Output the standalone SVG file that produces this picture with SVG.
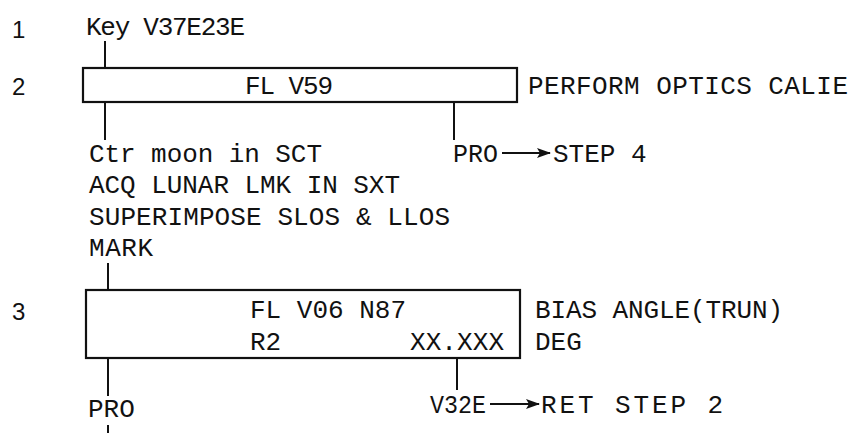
<svg xmlns="http://www.w3.org/2000/svg" width="853" height="433" viewBox="0 0 853 433">
<style>
.t{font-family:"Liberation Mono","DejaVu Sans Mono",monospace;font-size:26px;fill:#111}
.n{font-family:"Liberation Sans","DejaVu Sans",sans-serif;font-size:24px;fill:#111}
.box{fill:none;stroke:#111;stroke-width:2.2}
.ln{stroke:#111;stroke-width:2;fill:none}
</style>
<defs>
<marker id="ah" viewBox="0 0 14 10" refX="13" refY="5" markerWidth="14" markerHeight="10" markerUnits="userSpaceOnUse" orient="auto"><path d="M0,0 L14,5 L0,10 L3,5 z" fill="#111"/></marker>
</defs>
<rect width="853" height="433" fill="#fff"/>
<g id="step-labels">
<text class="n" x="12" y="38">1</text>
<text class="n" x="12" y="95">2</text>
<text class="n" x="12" y="320">3</text>
</g>
<g id="key">
<text class="t" x="86" y="35" textLength="159" lengthAdjust="spacing">Key V37E23E</text>
</g>
<g id="box-v59">
<rect class="box" x="83" y="68" width="434" height="34"/>
<text class="t" x="245" y="94" textLength="88" lengthAdjust="spacing">FL V59</text>
<text class="t" x="528" y="94" textLength="320" lengthAdjust="spacing">PERFORM OPTICS CALIE</text>
</g>
<g id="instructions">
<text class="t" x="89" y="162" textLength="233" lengthAdjust="spacing">Ctr moon in SCT</text>
<text class="t" x="89" y="193" textLength="311" lengthAdjust="spacing">ACQ LUNAR LMK IN SXT</text>
<text class="t" x="89" y="225" textLength="361" lengthAdjust="spacing">SUPERIMPOSE SLOS &amp; LLOS</text>
<text class="t" x="89" y="256" textLength="64" lengthAdjust="spacing">MARK</text>
</g>
<g id="pro-step4">
<text class="t" x="453" y="162" textLength="45" lengthAdjust="spacingAndGlyphs">PRO</text>
<text class="t" x="553" y="162">STEP 4</text>
</g>
<g id="box-v06">
<rect class="box" x="86" y="290" width="434" height="68"/>
<text class="t" x="250" y="318">FL V06 N87</text>
<text class="t" x="250" y="350">R2</text>
<text class="t" x="410" y="350" textLength="94" lengthAdjust="spacing">XX.XXX</text>
<text class="t" x="535" y="318" textLength="248" lengthAdjust="spacing">BIAS ANGLE(TRUN)</text>
<text class="t" x="535" y="350">DEG</text>
</g>
<g id="pro-final">
<text class="t" x="88" y="417">PRO</text>
</g>
<g id="v32e">
<text class="t" x="430" y="413" textLength="56" lengthAdjust="spacingAndGlyphs">V32E</text>
<text class="t" x="541" y="413" textLength="182" lengthAdjust="spacing">RET STEP 2</text>
</g>
<g id="connectors">
<line class="ln" x1="105" y1="41" x2="105" y2="68"/>
<line class="ln" x1="105" y1="102" x2="105" y2="140"/>
<line class="ln" x1="454" y1="102" x2="454" y2="140"/>
<line class="ln" x1="502" y1="153" x2="550" y2="153" marker-end="url(#ah)"/>
<line class="ln" x1="108" y1="263" x2="108" y2="290"/>
<line class="ln" x1="108" y1="358" x2="108" y2="396"/>
<line class="ln" x1="457" y1="358" x2="457" y2="390"/>
<line class="ln" x1="490" y1="404" x2="539" y2="404" marker-end="url(#ah)"/>
<line class="ln" x1="108" y1="425" x2="108" y2="433"/>
</g>
</svg>
